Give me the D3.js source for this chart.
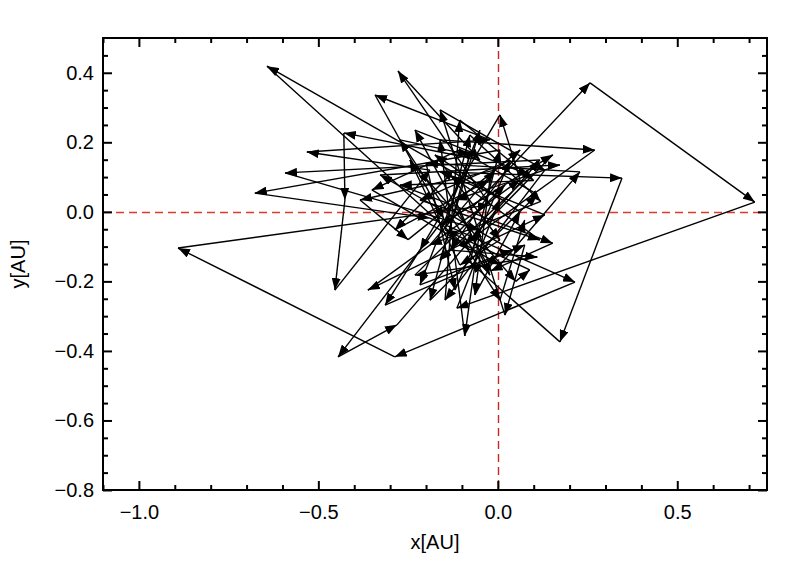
<!DOCTYPE html>
<html><head><meta charset="utf-8">
<script src="https://cdn.jsdelivr.net/npm/d3@7"></script>
<style>
body{margin:0;background:#fff;}
text{font-family:"Liberation Sans",Arial,Helvetica,sans-serif;}
</style></head>
<body><svg id="c" width="789" height="563"></svg>
<script>
// Path of positions (AU), drawn as consecutive arrows
const xs = [-0.078,0.257,0.716,-0.114,0.006,-0.643,-0.078,0.131,-0.161,0.346,0.173,-0.078,0.006,-0.677,-0.189,0.215,-0.287,-0.891,-0.022,-0.278,-0.050,-0.429,-0.426,-0.454,-0.189,-0.532,-0.022,-0.342,-0.150,-0.445,-0.281,0.117,-0.593,-0.050,-0.092,-0.161,0.270,-0.078,-0.362,0.062,0.006,-0.217,-0.314,0.075,0.020,-0.161,0.131,-0.147,-0.106,0.100,-0.273,0.153,-0.020,-0.231,0.089,-0.161,-0.050,-0.217,0.040,-0.328,0.173,-0.119,-0.022,-0.273,-0.078,-0.189,0.110,-0.106,-0.351,0.006,0.229,-0.200,-0.119,0.034,-0.217,0.117,-0.133,-0.287,-0.022,-0.064,0.062,-0.175,0.006,-0.106,-0.245,0.050,0.089,-0.147,-0.078,0.120,-0.189,-0.008,-0.384,-0.250,0.062,-0.133,0.110,-0.231,0.020,-0.161,0.153,-0.092,0.006,0.075];
const ys = [0.005,0.371,0.028,-0.277,0.037,0.419,-0.110,-0.009,0.115,0.097,-0.374,-0.144,0.178,0.054,-0.018,-0.202,-0.417,-0.104,0.020,0.405,0.149,0.227,0.034,-0.225,0.120,0.172,0.207,0.336,-0.020,-0.417,-0.325,0.149,0.112,-0.052,-0.357,0.207,0.178,-0.081,-0.225,0.092,0.279,-0.110,-0.268,-0.095,-0.297,0.293,0.120,-0.254,0.264,0.090,0.077,-0.090,-0.170,0.235,0.106,-0.139,0.235,-0.210,-0.110,0.106,0.135,0.034,-0.182,0.207,0.164,-0.254,0.050,0.178,0.063,-0.153,0.115,0.140,-0.225,0.149,0.034,-0.081,0.106,-0.052,0.092,-0.239,0.000,0.164,-0.081,-0.153,0.149,-0.200,-0.167,-0.052,0.221,0.030,-0.095,0.120,0.034,-0.080,0.178,-0.110,-0.130,-0.182,0.077,-0.038,0.164,-0.095,-0.254,-0.023];
const xMajor = [-1.0,-0.5,0.0,0.5];
const xMinor = [-1.1,-0.9,-0.8,-0.7,-0.6,-0.4,-0.3,-0.2,-0.1,0.1,0.2,0.3,0.4,0.6,0.7];
const yMajor = [-0.8,-0.6,-0.4,-0.2,0.0,0.2,0.4];
const yMinor = [-0.75,-0.7,-0.65,-0.55,-0.5,-0.45,-0.35,-0.3,-0.25,-0.15,-0.1,-0.05,0.05,0.1,0.15,0.25,0.3,0.35,0.45];
const xDomain = [-1.1,0.75], yDomain = [-0.8,0.5];
const xLabel = "x[AU]", yLabel = "y[AU]";

const L=103,R=767,T=38,B=490;
const svg=d3.select("#c");
const x=d3.scaleLinear().domain(xDomain).range([L,R]);
const y=d3.scaleLinear().domain(yDomain).range([B,T]);
const fmt=d=>d3.format(".1f")(d).replace("-","\u2212");

const defs=svg.append("defs");
defs.append("marker").attr("id","ah").attr("markerUnits","userSpaceOnUse")
  .attr("viewBox","0 0 12 9").attr("refX",12).attr("refY",4.5)
  .attr("markerWidth",12).attr("markerHeight",9).attr("orient","auto")
  .append("path").attr("d","M0,0L12,4.5L0,9Z").attr("fill","#000");

// zero lines
svg.append("line").attr("x1",Math.round(x(0))+0.5).attr("x2",Math.round(x(0))+0.5).attr("y1",T).attr("y2",B)
  .attr("stroke","#c8281e").attr("stroke-width",1.4).attr("stroke-dasharray","8,5");
svg.append("line").attr("x1",L).attr("x2",R).attr("y1",Math.round(y(0))+0.5).attr("y2",Math.round(y(0))+0.5)
  .attr("stroke","#e03a2a").attr("stroke-width",1.4).attr("stroke-dasharray","8,5");

// arrows
const pts=xs.map((v,i)=>[v,ys[i]]);
const g=svg.append("g");
for(let i=0;i<pts.length-1;i++){
  g.append("line").attr("x1",x(pts[i][0])).attr("y1",y(pts[i][1]))
   .attr("x2",x(pts[i+1][0])).attr("y2",y(pts[i+1][1]))
   .attr("stroke","#000").attr("stroke-width",1.4).attr("marker-end","url(#ah)");
}

// axes
function ax(gen,tr,vals,size,labels,pad){
  const a=svg.append("g").attr("transform",tr)
   .call(gen.tickValues(vals).tickSizeInner(size).tickSizeOuter(0).tickPadding(pad)
     .tickFormat(labels?fmt:""));
  a.select(".domain").remove();
  a.selectAll("line").attr("stroke","#000").attr("stroke-width",2);
  a.selectAll("text").attr("font-size",20).attr("fill","#000");
  return a;
}
ax(d3.axisBottom(x),`translate(0,${B})`,xMajor,-9,true,15);
ax(d3.axisBottom(x),`translate(0,${B})`,xMinor,-5,false,0);
ax(d3.axisTop(x),`translate(0,${T})`,xMajor,-9,false,0);
ax(d3.axisTop(x),`translate(0,${T})`,xMinor,-5,false,0);
ax(d3.axisLeft(y),`translate(${L},0)`,yMajor,-9,true,9);
ax(d3.axisLeft(y),`translate(${L},0)`,yMinor,-5,false,0);
ax(d3.axisRight(y),`translate(${R},0)`,yMajor,-9,false,0);
ax(d3.axisRight(y),`translate(${R},0)`,yMinor,-5,false,0);

svg.append("rect").attr("x",L).attr("y",T).attr("width",R-L).attr("height",B-T)
  .attr("fill","none").attr("stroke","#000").attr("stroke-width",2);

svg.append("text").attr("x",(L+R)/2).attr("y",549).attr("text-anchor","middle")
  .attr("font-size",20).text(xLabel);
svg.append("text").attr("transform",`translate(25,${(T+B)/2}) rotate(-90)`)
  .attr("text-anchor","middle").attr("font-size",20).text(yLabel);
</script></body></html>
